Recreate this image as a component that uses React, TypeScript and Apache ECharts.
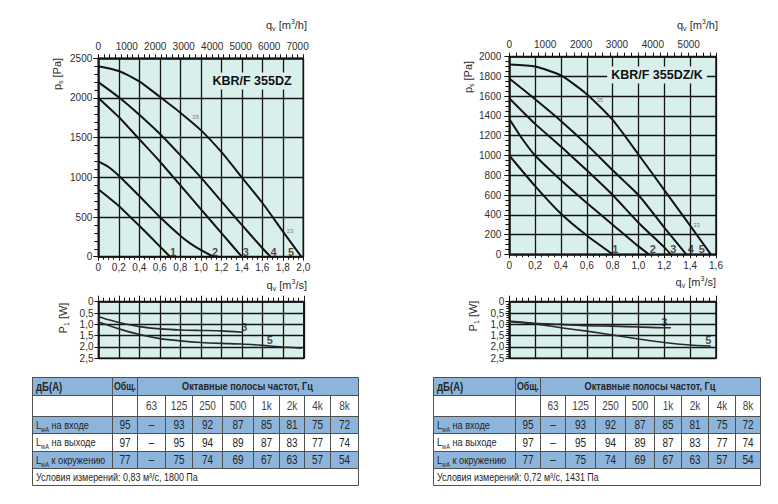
import React, { useEffect, useRef } from 'react';
import * as echarts from 'echarts';

type Pt = [number, number];
type Tag = { q: number; v: number; text: string; small?: boolean };

const FONT = 'Arial, "Liberation Sans", Helvetica, sans-serif';
const INK = '#141414';
const LABEL = '#2e2e2e';
const PLOT_BG = '#d9efec';
const HEAD_BG = '#8db4da';
const RULE = '#505050';

// KBR/F 355DZ: static pressure p_s [Pa] over air flow q_v [m³/s], speed steps 1…5
const dzPressure1: Pt[] = [[0, 850], [0.2, 640], [0.4, 390], [0.6, 130], [0.7, 0]];
const dzPressure2: Pt[] = [[0, 1200], [0.1, 1130], [0.2, 1020], [0.4, 765], [0.6, 500], [0.8, 265], [0.9, 165], [1.0, 85], [1.1, 15], [1.13, 0]];
const dzPressure3: Pt[] = [[0, 2000], [0.2, 1760], [0.4, 1480], [0.6, 1200], [0.8, 900], [1.0, 600], [1.2, 300], [1.4, 0]];
const dzPressure4: Pt[] = [[0, 2200], [0.2, 2010], [0.4, 1790], [0.6, 1550], [0.8, 1280], [1.0, 1000], [1.2, 700], [1.4, 400], [1.6, 110], [1.68, 0]];
const dzPressure5: Pt[] = [[0, 2400], [0.2, 2340], [0.4, 2210], [0.6, 2015], [0.8, 1815], [1.0, 1595], [1.2, 1320], [1.4, 1000], [1.6, 680], [1.8, 320], [1.98, 0]];
const dzPressureTags: Tag[] = [
  { q: 0.73, v: 60, text: '1' },
  { q: 1.14, v: 60, text: '2' },
  { q: 1.44, v: 60, text: '3' },
  { q: 1.71, v: 60, text: '4' },
  { q: 1.88, v: 60, text: '5' },
  { q: 0.95, v: 1760, text: '35', small: true },
  { q: 1.87, v: 320, text: '23', small: true },
];
// KBR/F 355DZ: input power P1 on steps 3 and 5
const dzPower3: Pt[] = [[0, 0.65], [0.1, 0.8], [0.2, 0.92], [0.4, 1.1], [0.6, 1.2], [0.8, 1.25], [1.0, 1.27], [1.2, 1.29], [1.4, 1.35]];
const dzPower5: Pt[] = [[0, 0.9], [0.2, 1.2], [0.4, 1.45], [0.6, 1.63], [0.8, 1.73], [1.0, 1.8], [1.2, 1.84], [1.4, 1.87], [1.6, 1.93], [1.8, 2.0], [1.98, 2.05]];
const dzPowerTags: Tag[] = [
  { q: 1.42, v: 1.13, text: '3' },
  { q: 1.67, v: 1.69, text: '5' },
];

// KBR/F 355DZ/K
const dzkPressure1: Pt[] = [[0, 1000], [0.2, 690], [0.4, 410], [0.6, 190], [0.8, 0]];
const dzkPressure2: Pt[] = [[0, 1370], [0.1, 1170], [0.2, 1000], [0.4, 750], [0.6, 520], [0.8, 300], [1.0, 80], [1.08, 0]];
const dzkPressure3: Pt[] = [[0, 1580], [0.2, 1320], [0.4, 1090], [0.6, 850], [0.8, 600], [1.0, 320], [1.2, 70], [1.25, 0]];
const dzkPressure4: Pt[] = [[0, 1780], [0.2, 1570], [0.4, 1350], [0.6, 1110], [0.8, 850], [1.0, 600], [1.2, 270], [1.37, 0]];
const dzkPressure5: Pt[] = [[0, 1920], [0.2, 1900], [0.4, 1810], [0.6, 1620], [0.8, 1360], [1.0, 1010], [1.2, 650], [1.4, 290], [1.56, 0]];
const dzkPressureTags: Tag[] = [
  { q: 0.82, v: 50, text: '1' },
  { q: 1.11, v: 50, text: '2' },
  { q: 1.27, v: 50, text: '3' },
  { q: 1.405, v: 50, text: '4' },
  { q: 1.49, v: 50, text: '5' },
  { q: 0.7, v: 1560, text: '35', small: true },
  { q: 1.45, v: 296, text: '33', small: true },
];
const dzkPower3: Pt[] = [[0, 0.85], [0.2, 0.95], [0.4, 1.0], [0.6, 1.06], [0.8, 1.08], [1.0, 1.12], [1.2, 1.15], [1.25, 1.15]];
const dzkPower5: Pt[] = [[0, 0.88], [0.2, 0.98], [0.4, 1.15], [0.6, 1.3], [0.8, 1.47], [1.0, 1.65], [1.2, 1.8], [1.4, 1.91], [1.56, 1.96]];
const dzkPowerTags: Tag[] = [
  { q: 1.2, v: 0.91, text: '3' },
  { q: 1.54, v: 1.69, text: '5' },
];

// Sound power levels, dB(A)
const bandLabels = ['63', '125', '250', '500', '1k', '2k', '4k', '8k'];
const soundRowNames = ['на входе', 'на выходе', 'к окружению'];
const soundTotals = ['95', '97', '77'];
const soundInlet = ['–', '93', '92', '87', '85', '81', '75', '72'];
const soundOutlet = ['–', '95', '94', '89', '87', '83', '77', '74'];
const soundAmbient = ['–', '75', '74', '69', '67', '63', '57', '54'];
const dzCondition = 'Условия измерений: 0,83 м³/с, 1800 Па';
const dzkCondition = 'Условия измерений: 0,72 м³/с, 1431 Па';

interface Box { left: number; top: number; width: number; height: number }
interface Panel {
  model: string;
  maxFlow: number;
  maxPa: number;
  paStep: number;
  paMinor: number;
  pressure: Pt[][];
  pressureTags: Tag[];
  power: Pt[][];
  powerTags: Tag[];
  powerMinor: boolean;
  condition: string;
  pressGrid: Box;
  powerGrid: Box;
  yLabelMargin: number;
  title: [number, number];
  psName: [number, number];
  p1Name: [number, number];
  qvHour: [number, number];
  qvSec: [number, number];
  cols: number[];
}

const tableRows = [377, 395, 416, 433, 451, 468, 485];

const panels: Panel[] = [
  {
    model: 'KBR/F 355DZ',
    maxFlow: 2.0,
    maxPa: 2500,
    paStep: 500,
    paMinor: 5,
    pressure: [dzPressure1, dzPressure2, dzPressure3, dzPressure4, dzPressure5],
    pressureTags: dzPressureTags,
    power: [dzPower3, dzPower5],
    powerTags: dzPowerTags,
    powerMinor: false,
    condition: dzCondition,
    pressGrid: { left: 98.3, top: 58.3, width: 205, height: 198.4 },
    powerGrid: { left: 98.5, top: 301.7, width: 205.3, height: 56.6 },
    yLabelMargin: 6,
    title: [252, 81],
    psName: [57, 74],
    p1Name: [63, 318],
    qvHour: [307, 25],
    qvSec: [307, 285],
    cols: [32, 112, 137, 165, 192, 222, 253, 279, 304, 330, 358],
  },
  {
    model: 'KBR/F 355DZ/K',
    maxFlow: 1.6,
    maxPa: 2000,
    paStep: 200,
    paMinor: 4,
    pressure: [dzkPressure1, dzkPressure2, dzkPressure3, dzkPressure4, dzkPressure5],
    pressureTags: dzkPressureTags,
    power: [dzkPower3, dzkPower5],
    powerTags: dzkPowerTags,
    powerMinor: true,
    condition: dzkCondition,
    pressGrid: { left: 509.3, top: 56.7, width: 206.7, height: 197.6 },
    powerGrid: { left: 509.3, top: 301.7, width: 206.7, height: 56.6 },
    yLabelMargin: 8,
    title: [657, 75],
    psName: [468, 77],
    p1Name: [473, 316],
    qvHour: [718, 25],
    qvSec: [716, 282],
    cols: [433, 515, 540, 565, 595, 625, 654, 681, 708, 735, 760],
  },
];

const comma = (v: number) => (Math.abs(v) < 1e-9 ? '0' : v.toFixed(1).replace('.', ','));
const plain = (v: number) => String(Math.round(v));

const tickLabel = { fontSize: 10, fontFamily: FONT, color: LABEL };

const richStyles = {
  n: { fontSize: 11, fontFamily: FONT, fill: LABEL, lineHeight: 14 },
  s: { fontSize: 7, fontFamily: FONT, fill: LABEL, verticalAlign: 'bottom' },
  u: { fontSize: 7, fontFamily: FONT, fill: LABEL, verticalAlign: 'top' },
};

function richLabel(pos: [number, number], text: string, align: string, rotate = false) {
  return {
    type: 'text',
    x: pos[0],
    y: pos[1],
    rotation: rotate ? Math.PI / 2 : 0,
    z: 20,
    style: { text, align, verticalAlign: 'middle', fill: LABEL, rich: richStyles },
  };
}

function line(x1: number, y1: number, x2: number, y2: number) {
  return {
    type: 'line',
    z: 6,
    shape: { x1: Math.round(x1) + 0.5, y1: Math.round(y1) + 0.5, x2: Math.round(x2) + 0.5, y2: Math.round(y2) + 0.5 },
    style: { stroke: RULE, lineWidth: 1 },
  };
}

const SQUEEZE = 0.8;

function cellText(x: number, y: number, text: string, align: string, size: number, bold = false, color = '#262626') {
  return {
    type: 'text',
    x,
    y,
    scaleX: SQUEEZE,
    z: 8,
    style: {
      text,
      align,
      verticalAlign: 'middle',
      fill: color,
      font: `${bold ? 'bold ' : ''}${size}px ${FONT}`,
    },
  };
}

function soundTable(cols: number[], condition: string) {
  const rows = tableRows;
  const left = cols[0];
  const right = cols[cols.length - 1];
  const els: any[] = [];
  [0, 2, 4].forEach((r) =>
    els.push({
      type: 'rect',
      z: 5,
      shape: { x: left, y: rows[r], width: right - left, height: rows[r + 1] - rows[r] },
      style: { fill: HEAD_BG },
    })
  );
  rows.forEach((y) => els.push(line(left, y, right, y)));
  els.push(line(left, rows[0], left, rows[6]));
  els.push(line(right, rows[0], right, rows[6]));
  [1, 2].forEach((c) => els.push(line(cols[c], rows[0], cols[c], rows[5])));
  for (let c = 3; c < cols.length - 1; c++) els.push(line(cols[c], rows[1], cols[c], rows[5]));

  const mid = (r: number) => (rows[r] + rows[r + 1]) / 2 + 0.5;
  const cx = (c: number) => (cols[c] + cols[c + 1]) / 2 + 0.5;
  els.push(cellText(left + 4, mid(0), 'дБ(A)', 'left', 12, true));
  els.push(cellText(cx(1), mid(0), 'Общ.', 'center', 11, true));
  els.push(cellText((cols[2] + right) / 2, mid(0), 'Октавные полосы частот, Гц', 'center', 11.5, true));
  bandLabels.forEach((b, i) => els.push(cellText(cx(i + 2), mid(1), b, 'center', 12.5, false, '#444')));
  [soundInlet, soundOutlet, soundAmbient].forEach((vals, k) => {
    const r = k + 2;
    els.push({
      type: 'text',
      x: left + 4,
      y: mid(r),
      scaleX: SQUEEZE,
      z: 8,
      style: {
        text: `{n|L}{s|wA}{n| ${soundRowNames[k]}}`,
        align: 'left',
        verticalAlign: 'middle',
        fill: '#262626',
        rich: {
          n: { fontSize: 11.5, fontFamily: FONT, fill: '#262626', lineHeight: 15 },
          s: { fontSize: 7, fontFamily: FONT, fill: '#262626', verticalAlign: 'bottom' },
        },
      },
    });
    els.push(cellText(cx(1), mid(r), soundTotals[k], 'center', 12.5));
    vals.forEach((v, i) => els.push(cellText(cx(i + 2), mid(r), v, 'center', 12.5)));
  });
  els.push(cellText(left + 4, mid(5), condition, 'left', 11.2));
  return els;
}

function buildOption() {
  const grid: any[] = [];
  const xAxis: any[] = [];
  const yAxis: any[] = [];
  const series: any[] = [];
  const graphic: any[] = [];

  panels.forEach((p, i) => {
    const gPress = i * 2;
    const gPower = i * 2 + 1;
    const axisLine = { show: true, onZero: false, lineStyle: { color: INK, width: 1.5 } };
    const tickLine = { color: INK, width: 1 };
    const gridLine = { show: true, lineStyle: { color: INK, width: 1.3 } };

    grid.push({ ...p.pressGrid, show: true, backgroundColor: PLOT_BG, borderColor: INK, borderWidth: 1.5 });
    grid.push({ ...p.powerGrid, show: true, backgroundColor: PLOT_BG, borderColor: INK, borderWidth: 1.5 });

    const hourMax = Math.round(p.maxFlow * 3600);
    // air flow, m³/s (below the pressure plot)
    xAxis.push({
      type: 'value', gridIndex: gPress, position: 'bottom', min: 0, max: p.maxFlow, interval: 0.2,
      axisLine, axisTick: { show: true, length: 4, lineStyle: tickLine },
      minorTick: { show: true, splitNumber: 4, length: 3, lineStyle: tickLine },
      splitLine: gridLine,
      axisLabel: { ...tickLabel, margin: 6, formatter: comma },
    });
    // air flow, m³/h (above the pressure plot)
    xAxis.push({
      type: 'value', gridIndex: gPress, position: 'top', min: 0, max: hourMax, interval: 200,
      axisLine, axisTick: { show: true, length: 4, lineStyle: tickLine },
      splitLine: { show: false },
      axisLabel: {
        ...tickLabel, margin: 7,
        formatter: (v: number) => (Math.round(v) % 1000 === 0 && v < hourMax - 1 ? plain(v) : ''),
      },
    });
    // air flow scale of the power plot
    xAxis.push({
      type: 'value', gridIndex: gPower, position: 'top', min: 0, max: p.maxFlow, interval: 0.2,
      axisLine, axisTick: { show: true, length: 6, lineStyle: tickLine },
      minorTick: { show: true, splitNumber: 4, length: 4, lineStyle: tickLine },
      splitLine: gridLine,
      axisLabel: { show: false },
    });
    yAxis.push({
      type: 'value', gridIndex: gPress, min: 0, max: p.maxPa, interval: p.paStep,
      axisLine, axisTick: { show: true, length: 5, lineStyle: tickLine },
      minorTick: { show: true, splitNumber: p.paMinor, length: 4, lineStyle: tickLine },
      splitLine: gridLine,
      axisLabel: { ...tickLabel, margin: p.yLabelMargin, formatter: plain },
    });
    yAxis.push({
      type: 'value', gridIndex: gPower, inverse: true, min: 0, max: 2.5, interval: 0.5,
      axisLine, axisTick: { show: true, length: 4, lineStyle: tickLine },
      minorTick: { show: p.powerMinor, splitNumber: 5, length: 3, lineStyle: tickLine },
      splitLine: gridLine,
      axisLabel: { ...tickLabel, margin: 5, formatter: comma },
    });

    const curve = (data: Pt[], xi: number, yi: number, width: number, color: string) => ({
      type: 'line', xAxisIndex: xi, yAxisIndex: yi, data, symbol: 'none',
      smooth: 0.2, silent: true, z: 3,
      lineStyle: { color, width },
    });
    const tags = (list: Tag[], xi: number, yi: number) => ({
      type: 'scatter', xAxisIndex: xi, yAxisIndex: yi, symbolSize: 1, silent: true, z: 4,
      itemStyle: { color: 'rgba(0,0,0,0)' },
      label: { show: true, position: 'inside', formatter: '{b}', fontFamily: FONT, fontSize: 11, fontWeight: 'bold', color: '#1e1e1e' },
      data: list.map((t) => ({
        value: [t.q, t.v],
        name: t.text,
        label: t.small ? { fontSize: 6, fontWeight: 'normal', color: '#555' } : undefined,
      })),
    });

    p.pressure.forEach((d) => series.push(curve(d, i * 3, i * 2, 2, INK)));
    series.push(tags(p.pressureTags, i * 3, i * 2));
    p.power.forEach((d) => series.push(curve(d, i * 3 + 2, i * 2 + 1, 1.6, '#2a2a2a')));
    series.push(tags(p.powerTags, i * 3 + 2, i * 2 + 1));

    graphic.push({
      type: 'text', x: p.title[0], y: p.title[1], z: 20,
      style: {
        text: p.model, align: 'center', verticalAlign: 'middle', fill: '#111',
        font: `bold 12.5px ${FONT}`, backgroundColor: PLOT_BG, padding: [2, 4],
      },
    });
    graphic.push(richLabel(p.psName, '{n|p}{s|s}{n| [Pa]}', 'center', true));
    graphic.push(richLabel(p.p1Name, '{n|P}{s|1}{n| [W]}', 'center', true));
    graphic.push(richLabel(p.qvHour, '{n|q}{s|v}{n| [m}{u|3}{n|/h]}', 'right'));
    graphic.push(richLabel(p.qvSec, '{n|q}{s|v}{n| [m}{u|3}{n|/s]}', 'right'));
    soundTable(p.cols, p.condition).forEach((el) => graphic.push(el));
  });

  return {
    animation: false,
    backgroundColor: '#ffffff',
    textStyle: { fontFamily: FONT },
    grid,
    xAxis,
    yAxis,
    series,
    graphic,
  };
}

export default function App() {
  const ref = useRef<HTMLDivElement>(null);
  useEffect(() => {
    if (!ref.current) return;
    const chart = echarts.init(ref.current, null, { renderer: 'svg' });
    chart.setOption(buildOption() as any);
    return () => chart.dispose();
  }, []);
  return (
    <div
      ref={ref}
      style={{ position: 'absolute', left: 0, top: 0, width: 778, height: 504, background: '#fff' }}
    />
  );
}
